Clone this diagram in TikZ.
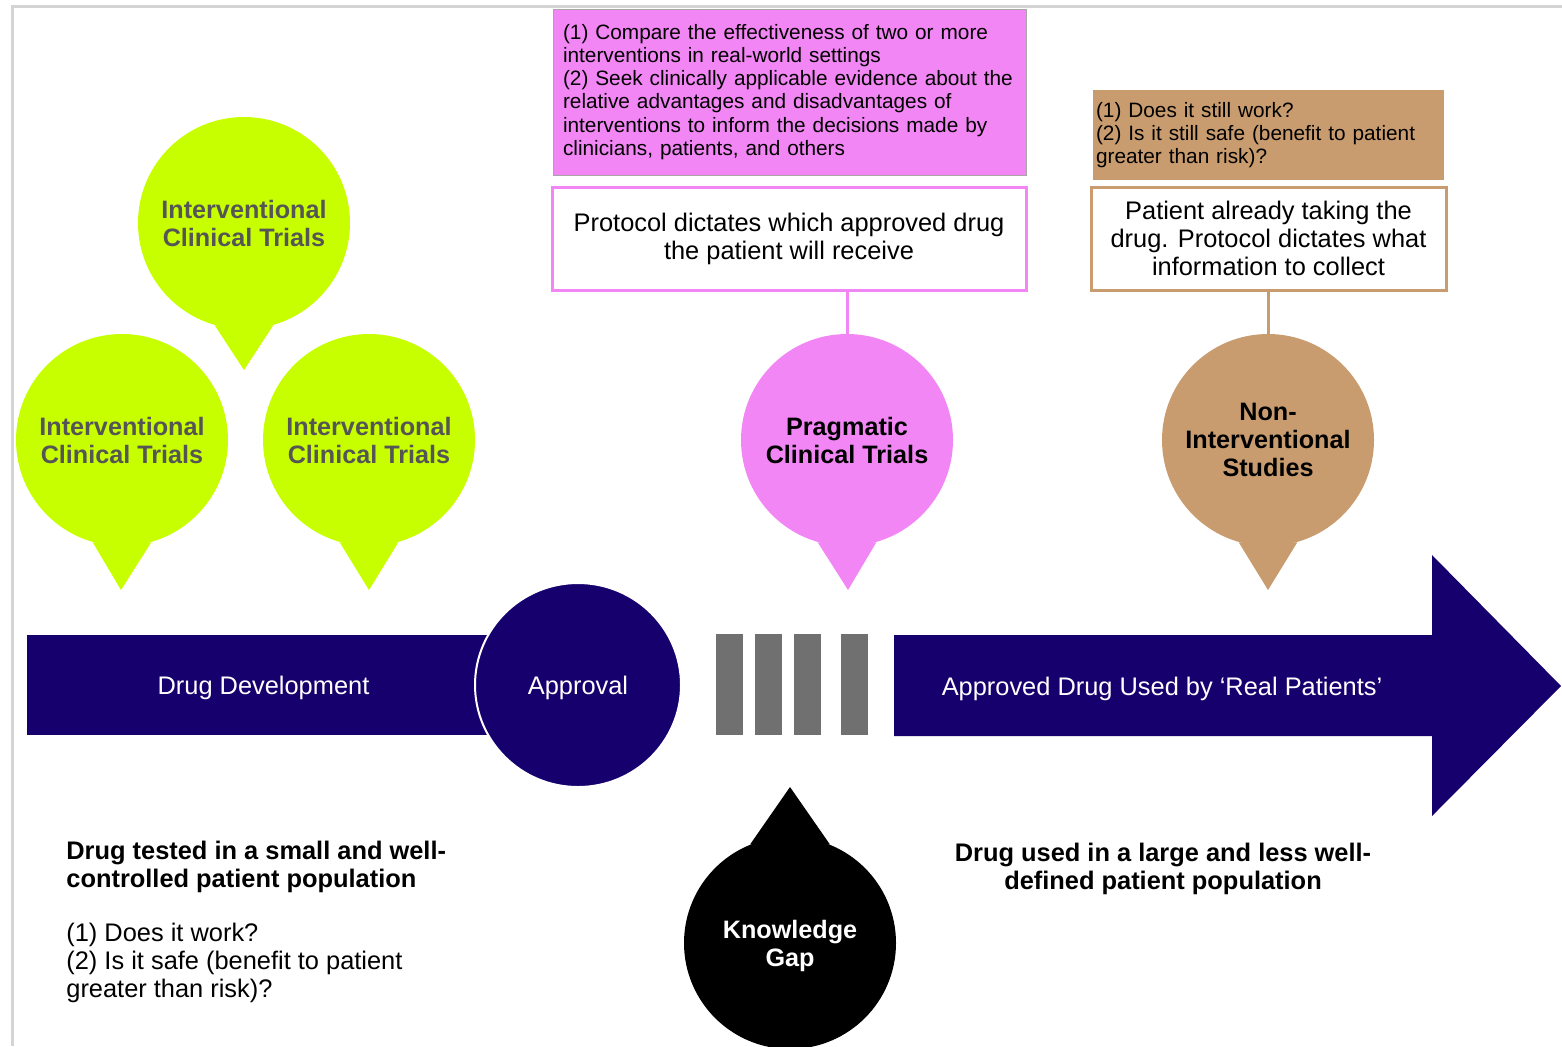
\documentclass[tikz,border=0pt]{standalone}
\usepackage{fontspec}
\setmainfont{Liberation Sans}
\usetikzlibrary{shapes.geometric}

\definecolor{ctnavy}{RGB}{22,0,110}
\definecolor{ctgreen}{RGB}{200,255,0}
\definecolor{ctpink}{RGB}{243,134,245}
\definecolor{ctbrown}{RGB}{200,156,110}
\definecolor{ctbar}{RGB}{112,112,112}
\definecolor{ctgrey}{RGB}{85,85,85}
\definecolor{ctframe}{RGB}{212,212,212}

\begin{document}
\begin{tikzpicture}[x=0.5pt,y=-0.5pt,
  bubble/.style={circle,minimum size=106pt,inner sep=0pt,align=center,
    font=\fontsize{12.6}{14}\selectfont\bfseries},
  band/.style={fill=ctnavy,text=white,inner sep=0pt,text depth=0pt,
    font=\fontsize{12.7}{14}\selectfont},
  notebox/.style={inner ysep=0pt,align=left,
    font=\fontsize{10.4}{11.6}\selectfont},
  protobox/.style={fill=white,line width=1.5pt,inner sep=0pt,align=center,
    font=\fontsize{12.7}{14}\selectfont},
  gapbar/.style={fill=ctbar},
  link/.style={line width=1.5pt},
  caption/.style={inner sep=0pt,font=\fontsize{12.7}{14}\selectfont}
]
\useasboundingbox (0,0) rectangle (1562,1046);

% page frame
\draw[ctframe,line width=1.5pt] (12,1046) -- (12,6) -- (1562,6);

% aims boxes
\node[notebox,fill=ctpink,draw=gray!70,line width=0.5pt,
      minimum width=236.5pt,minimum height=83pt,inner xsep=5pt,text width=226.5pt]
  (pnote) at (789.5,92)
  {(1) Compare the effectiveness of two or more\\
   interventions in real-world settings\\
   (2) Seek clinically applicable evidence about the\\
   relative advantages and disadvantages of\\
   interventions to inform the decisions made by\\
   clinicians, patients, and others};
\node[notebox,fill=ctbrown,minimum width=175.5pt,minimum height=45pt,
      inner xsep=1.5pt,text width=172.5pt]
  (nnote) at (1268.5,135)
  {(1) Does it still work?\\
   (2) Is it still safe (benefit to patient\\
   greater than risk)?};

% protocol boxes
\node[protobox,draw=ctpink,minimum width=237pt,minimum height=51.5pt]
  (pbox) at (789,238.5) {Protocol dictates which approved drug\\the patient will receive};
\node[protobox,draw=ctbrown,minimum width=177.5pt,minimum height=51.5pt]
  (nbox) at (1268.5,238.5) {Patient already taking the\\drug. Protocol dictates what\\information to collect};

% speech bubbles
\node[bubble,fill=ctgreen,text=ctgrey] (ict1) at (244,223) {Interventional\\Clinical Trials};
\node[bubble,fill=ctgreen,text=ctgrey] (ict2) at (122,440) {Interventional\\Clinical Trials};
\node[bubble,fill=ctgreen,text=ctgrey] (ict3) at (369,440) {Interventional\\Clinical Trials};
\node[bubble,fill=ctpink] (pct) at (847,440) {Pragmatic\\Clinical Trials};
\node[bubble,fill=ctbrown] (nis) at (1268,440) {Non-\\Interventional\\Studies};
\node[bubble,fill=black,text=white,text depth=0pt] (kg) at (790,943) {Knowledge\\Gap};

\coordinate (ict1tip) at (244,370);
\coordinate (ict2tip) at (121,590);
\coordinate (ict3tip) at (369,590);
\coordinate (pcttip) at (848,590);
\coordinate (nistip) at (1268,590);
\coordinate (kgtip) at (790,787);

\fill[ctgreen] (ict1.-74) -- (ict1tip) -- (ict1.-106) -- cycle;
\fill[ctgreen] (ict2.-74) -- (ict2tip) -- (ict2.-106) -- cycle;
\fill[ctgreen] (ict3.-74) -- (ict3tip) -- (ict3.-106) -- cycle;
\fill[ctpink] (pct.-74) -- (pcttip) -- (pct.-106) -- cycle;
\fill[ctbrown] (nis.-74) -- (nistip) -- (nis.-106) -- cycle;
\fill[black] (kg.68) -- (kgtip) -- (kg.112) -- cycle;

% links from protocol boxes to bubbles
\draw[link,ctpink] (pct.north |- pbox.south) -- (pct.north);
\draw[link,ctbrown] (nis.north |- nbox.south) -- (nis.north);

% timeline
\node[band,minimum width=236.5pt,minimum height=50pt] (dev) at (263.5,685) {Drug Development};
\node[ellipse,fill=ctnavy,draw=white,line width=1pt,inner sep=0pt,text depth=0pt,
      minimum width=103pt,minimum height=102pt,text=white,
      font=\fontsize{12.7}{14}\selectfont] (appr) at (578,685) {Approval};

\fill[gapbar] (716,634) rectangle (743,735);
\fill[gapbar] (755,634) rectangle (782,735);
\fill[gapbar] (794,634) rectangle (821,735);
\fill[gapbar] (841,634) rectangle (868,735);

\fill[ctnavy] (894,635) -- (1432,635) -- (1432,555) -- (1561,686)
  -- (1432,816) -- (1432,736) -- (894,736) -- cycle;
\node[caption,text=white,text depth=0pt] (real) at (1162,686) {Approved Drug Used by `Real Patients'};

% descriptions below the timeline
\node[caption,anchor=west,align=left] (before) at (66,922)
  {\bfseries Drug tested in a small and well-\\
   \bfseries controlled patient population\\[13pt]
   (1) Does it work?\\
   (2) Is it safe (benefit to patient\\
   greater than risk)?};
\node[caption,align=center,font=\fontsize{12.7}{14}\selectfont\bfseries] (after) at (1163,869)
  {Drug used in a large and less well-\\defined patient population};
\end{tikzpicture}
\end{document}
